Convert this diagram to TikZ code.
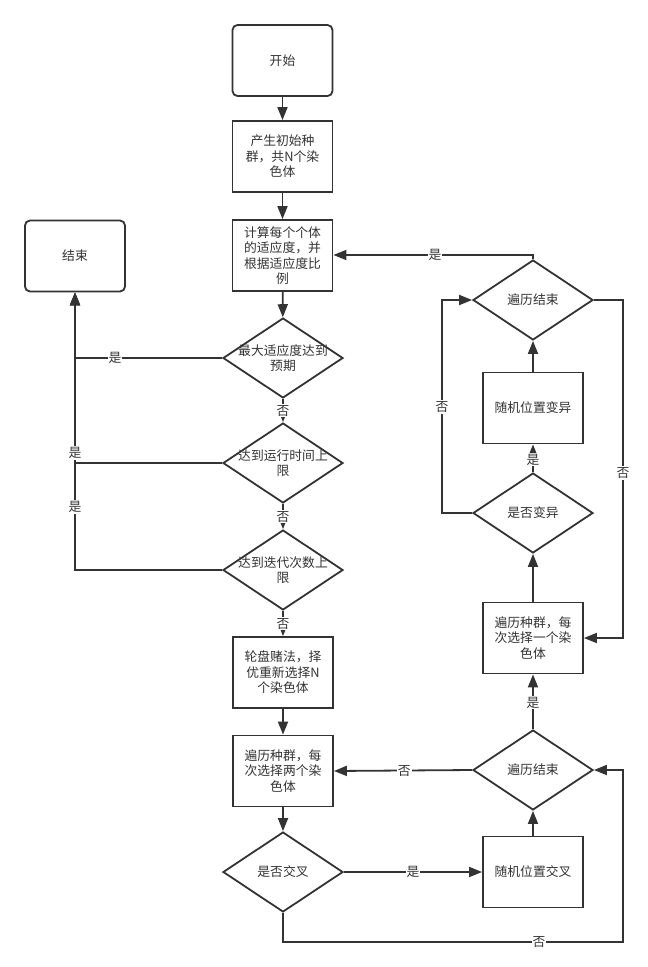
\documentclass[tikz,border=0pt]{standalone}
\usepackage{fontspec}
\setmainfont{Noto Sans CJK SC}
\usetikzlibrary{shapes.geometric,arrows.meta}
\definecolor{lc}{HTML}{333333}
\definecolor{tc}{HTML}{333333}
\newcommand{\fs}{\fontsize{12.8pt}{15.5pt}\selectfont}
\tikzset{
  ln/.style={draw=lc, line width=1.8pt},
  arr/.style={ln, -{Triangle[length=13pt,width=10pt]}},
  box/.style={rectangle, draw=lc, line width=1.8pt, minimum width=100pt, minimum height=71pt, inner sep=0pt, align=center, font=\fs, text=tc},
  rbox/.style={box, rounded corners=5pt},
  dia/.style={diamond, draw=lc, line width=1.8pt, minimum width=120pt, minimum height=80pt, inner sep=0pt},
  txt/.style={font=\fs, text=tc, align=center, inner sep=0pt},
  lab/.style={fill=white, font=\fs, text=tc, inner sep=1pt}
}
\begin{document}
\begin{tikzpicture}[x=1pt,y=-1pt]
\useasboundingbox (0,0) rectangle (648,967);
% nodes
\node[rbox] (start) at (282.5,60.5) {开始};
\node[box] (init) at (282.5,156.5) {产生初始种\\群，共N个染\\色体};
\node[box] (calc) at (282.5,255.5) {计算每个个体\\的适应度，并\\根据适应度比\\例};
\node[rbox] (end) at (75,256) {结束};
\node[dia] (d1) at (283,358) {};
\node[txt] (d1t) at (d1) {最大适应度达到\\预期};
\node[dia] (d2) at (283,463) {};
\node[txt] (d2t) at (d2) {达到运行时间上\\限};
\node[dia] (d3) at (283,570) {};
\node[txt] (d3t) at (d3) {达到迭代次数上\\限};
\node[box] (sel) at (283,672.5) {轮盘赌法，择\\优重新选择N\\个染色体};
\node[box] (two) at (283,771) {遍历种群，每\\次选择两个染\\色体};
\node[dia] (cx) at (283,872) {};
\node[txt] (cxt) at (cx) {是否交叉};
\node[box] (rcx) at (533,872) {随机位置交叉};
\node[dia] (e2) at (533,770) {};
\node[txt] (e2t) at (e2) {遍历结束};
\node[box] (one) at (533,638) {遍历种群，每\\次选择一个染\\色体};
\node[dia] (mu) at (533,513) {};
\node[txt] (mut) at (mu) {是否变异};
\node[box] (rmu) at (533,408) {随机位置变异};
\node[dia] (e1) at (533,300) {};
\node[txt] (e1t) at (e1) {遍历结束};
% helper coordinates
\coordinate (c1) at (75,358);
\coordinate (c2) at (75,463);
\coordinate (c3) at (75,570);
\coordinate (b1) at (283,942);
\coordinate (b2) at (623,942);
\coordinate (b3) at (623,770);
\coordinate (m1) at (442,513);
\coordinate (m2) at (442,300);
\coordinate (r1) at (623,300);
\coordinate (r2) at (623,638);
\coordinate (t1) at (533,255);
% main chain
\draw[arr] (start) -- (init);
\draw[arr] (init) -- (calc);
\draw[arr] (calc) -- (d1);
\draw[arr] (d1) -- node[lab] (n1) {否} (d2);
\draw[arr] (d2) -- node[lab] (n2) {否} (d3);
\draw[arr] (d3) -- node[lab,pos=0.5] (n3) {否} (sel);
\draw[arr] (sel) -- (two);
\draw[arr] (two) -- (cx);
% to end
\draw[arr] (d3.west) -- (c3) -- (end.south);
\draw[arr] (d2.west) -- (c2) -- (end.south);
\draw[arr] (d1.west) -- (c1) -- (end.south);
\node[lab] (y1) at (115,358) {是};
\node[lab] (y2) at (75,453) {是};
\node[lab] (y3) at (75,507) {是};
% crossover
\draw[arr] (cx.east) -- node[lab,pos=0.5] (y4) {是} (rcx.west);
\draw[arr] (cx.south) -- (b1) -- (b2) -- (b3) -- (e2.east);
\node[lab] (n4) at (539,942) {否};
\draw[arr] (rcx.north) -- (e2.south);
\draw[arr] (e2.west) -- node[lab,pos=0.49] (n5) {否} (two.east);
\draw[arr] (e2.north) -- node[lab,pos=0.48] (y5) {是} (one.south);
% mutation
\draw[arr] (one.north) -- (mu.south);
\draw[arr] (mu.north) -- node[lab,pos=0.45] (y6) {是} (rmu.south);
\draw[arr] (rmu.north) -- (e1.south);
\draw[arr] (mu.west) -- (m1) -- (m2) -- (e1.west);
\node[lab] (n6) at (442,407) {否};
\draw[arr] (e1.east) -- (r1) -- (r2) -- (one.east);
\node[lab] (n7) at (623,473) {否};
\draw[arr] (e1.north) -- (t1) -- (calc.east |- t1);
\node[lab] (y7) at (435,255) {是};
\end{tikzpicture}
\end{document}
